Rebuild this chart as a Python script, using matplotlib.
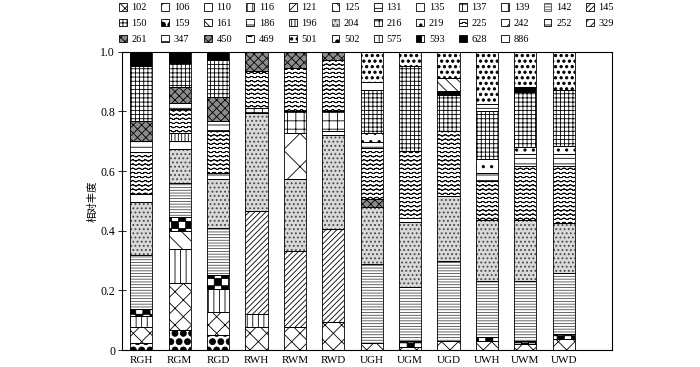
import warnings
import numpy as np
import matplotlib
matplotlib.use('Agg')
import matplotlib.pyplot as plt
import matplotlib.hatch as mhatch
from matplotlib.path import Path
from matplotlib.patches import Patch

warnings.filterwarnings('ignore')

samples = ['RGH', 'RGM', 'RGD', 'RWH', 'RWM', 'RWD',
           'UGH', 'UGM', 'UGD', 'UWH', 'UWM', 'UWD']

# legend order (row by row as in the figure)
otus = ['102', '106', '110', '116', '121', '125', '131', '135', '137', '139', '142', '145',
        '150', '159', '161', '186', '196', '204', '216', '219', '225', '242', '252', '329',
        '261', '347', '450', '469', '501', '502', '575', '593', '628', '886']

# stacking order, bottom -> top
stack_order = ['159', '102', '116', '161', '593', '145', '142', '204', '450', '186', '196',
               '121', '137', '216', '225', '252', '219', '261', '150', '628', '125', '131',
               '501', '106', '110', '135', '139', '242', '329', '347', '469', '502', '575', '886']

abund_102 = [0.053, 0.156, 0.075, 0.076, 0.076, 0.095, 0.023, 0.009, 0.031, 0.031, 0.020, 0.037]
abund_116 = [0.039, 0.116, 0.078, 0.044, 0, 0, 0, 0, 0, 0, 0, 0]
abund_121 = [0, 0, 0, 0, 0.154, 0, 0, 0, 0, 0, 0, 0]
abund_125 = [0, 0, 0, 0, 0, 0, 0, 0, 0.041, 0, 0, 0]
abund_131 = [0, 0, 0, 0, 0, 0, 0.025, 0, 0, 0.026, 0, 0]
abund_137 = [0, 0, 0, 0, 0.076, 0.068, 0, 0, 0, 0, 0, 0]
abund_142 = [0.182, 0.113, 0.156, 0, 0, 0, 0.265, 0.179, 0.269, 0.185, 0.199, 0.203]
abund_145 = [0, 0, 0, 0.347, 0.256, 0.310, 0, 0, 0, 0, 0, 0]
abund_150 = [0.183, 0.080, 0.125, 0, 0, 0, 0.144, 0.284, 0.122, 0.161, 0.184, 0.189]
abund_159 = [0.023, 0.068, 0.051, 0, 0, 0, 0, 0, 0, 0, 0, 0]
abund_161 = [0, 0.059, 0, 0, 0, 0, 0, 0, 0, 0, 0, 0]
abund_186 = [0.026, 0.025, 0.020, 0, 0, 0.012, 0, 0.011, 0, 0, 0, 0]
abund_196 = [0, 0.026, 0, 0, 0, 0, 0, 0, 0, 0, 0, 0]
abund_204 = [0.177, 0.116, 0.167, 0.329, 0.240, 0.317, 0.192, 0.220, 0.217, 0.205, 0.206, 0.168]
abund_216 = [0, 0, 0, 0.016, 0, 0, 0, 0, 0, 0, 0, 0]
abund_219 = [0, 0, 0, 0, 0, 0, 0.031, 0, 0, 0.044, 0.026, 0.028]
abund_225 = [0.141, 0.083, 0.139, 0.123, 0.144, 0.171, 0.171, 0.226, 0.217, 0.132, 0.181, 0.192]
abund_252 = [0.039, 0.020, 0.035, 0, 0, 0, 0.020, 0, 0, 0.028, 0.039, 0.039]
abund_261 = [0.066, 0.053, 0.079, 0.065, 0.054, 0.027, 0, 0, 0, 0, 0, 0]
abund_450 = [0, 0, 0, 0, 0, 0, 0.027, 0, 0, 0, 0, 0]
abund_501 = [0, 0, 0, 0, 0, 0, 0.102, 0.049, 0.089, 0.174, 0.119, 0.127]
abund_593 = [0.022, 0.047, 0.048, 0, 0, 0, 0, 0.022, 0, 0.014, 0.011, 0.017]
abund_628 = [0.049, 0.038, 0.027, 0, 0, 0, 0, 0, 0.014, 0, 0.015, 0]
zeros = [0] * 12

abund = {'102': abund_102, '116': abund_116, '121': abund_121, '125': abund_125,
         '131': abund_131, '137': abund_137, '142': abund_142, '145': abund_145,
         '150': abund_150, '159': abund_159, '161': abund_161, '186': abund_186,
         '196': abund_196, '204': abund_204, '216': abund_216, '219': abund_219,
         '225': abund_225, '252': abund_252, '261': abund_261, '450': abund_450,
         '501': abund_501, '593': abund_593, '628': abund_628}


# ---- a few extra hatch patterns: wave '~', checker 'c', filled dots 'd'/'D'/'p'
class WaveHatch(mhatch.HatchPatternBase):
    def __init__(self, hatch, density):
        self.num_lines = int(hatch.count('~') * density)
        self.npts = 129
        self.num_vertices = self.num_lines * self.npts * 2

    def set_vertices_and_codes(self, vertices, codes):
        step = 1.0 / self.num_lines
        xs = np.linspace(0, 1, self.npts)
        ys = 0.16 * step * np.sin(2 * np.pi * 16 * xs)
        n = self.npts
        for i in range(self.num_lines):
            y0 = (i + 0.5) * step
            seg = vertices[i * 2 * n:(i + 1) * 2 * n]
            seg[:n, 0] = xs
            seg[:n, 1] = y0 + ys
            seg[n:, 0] = xs[::-1]
            seg[n:, 1] = (y0 + ys)[::-1]
            c = codes[i * 2 * n:(i + 1) * 2 * n]
            c[:] = Path.LINETO
            c[0] = Path.MOVETO


class CheckerHatch(mhatch.HatchPatternBase):
    def __init__(self, hatch, density):
        self.n = hatch.count('c') * 7
        self.cells = [(i, j) for i in range(self.n) for j in range(self.n) if (i + j) % 2 == 0]
        self.num_vertices = len(self.cells) * 5

    def set_vertices_and_codes(self, vertices, codes):
        s = 1.0 / self.n
        for k, (i, j) in enumerate(self.cells):
            x0, y0 = i * s, j * s
            vertices[k * 5:k * 5 + 5] = [[x0, y0], [x0 + s, y0], [x0 + s, y0 + s],
                                         [x0, y0 + s], [x0, y0]]
            codes[k * 5:k * 5 + 5] = [Path.MOVETO, Path.LINETO, Path.LINETO,
                                      Path.LINETO, Path.CLOSEPOLY]


class SpeckleDots(mhatch.Circles):
    size = 0.22
    filled = True

    def __init__(self, hatch, density):
        self.num_rows = hatch.count('d') * density
        super().__init__(hatch, density)


class BigDots(mhatch.Circles):
    size = 0.36
    filled = True

    def __init__(self, hatch, density):
        self.num_rows = hatch.count('D') * density
        super().__init__(hatch, density)


class PinDots(mhatch.Circles):
    size = 0.14
    filled = True

    def __init__(self, hatch, density):
        self.num_rows = hatch.count('p') * density
        super().__init__(hatch, density)


mhatch._hatch_types.extend([WaveHatch, CheckerHatch, SpeckleDots, BigDots, PinDots])

# face colour, hatch, hatch colour
styles = {
    '102': ('white', 'xx', 'black'), '106': ('white', '//', 'black'),
    '110': ('white', 'o', 'black'), '116': ('white', '|||', 'black'),
    '121': ('white', 'x', 'black'), '125': ('white', '\\\\\\', 'black'),
    '131': ('white', '-', 'black'), '135': ('white', '.', 'black'),
    '137': ('white', '++', 'black'), '139': ('white', '|', 'black'),
    '142': ('white', '------', '0.3'), '145': ('white', '//////', 'black'),
    '150': ('white', '++++', 'black'), '159': ('white', 'DD', 'black'),
    '161': ('white', '\\\\', 'black'), '186': ('white', '-', 'black'),
    '196': ('white', '|||||', 'black'), '204': ('0.85', 'pppp', '0.3'),
    '216': ('white', '++', 'black'), '219': ('white', 'pp', 'black'),
    '225': ('white', '~~~~', 'black'), '242': ('white', '//', 'black'),
    '252': ('white', '---', 'black'), '329': ('white', '////', 'black'),
    '261': ('0.55', 'xxxx', 'black'), '347': ('white', '+', 'black'),
    '450': ('0.55', 'xxxx', 'black'), '469': ('white', 'o', 'black'),
    '501': ('white', 'ddd', 'black'), '502': ('white', 'dd', 'black'),
    '575': ('white', '||', 'black'), '593': ('white', 'cc', 'black'),
    '628': ('black', '', 'black'), '886': ('white', '', 'black'),
}

plt.rcParams['hatch.linewidth'] = 0.6
plt.rcParams['font.family'] = ['Liberation Serif', 'Noto Sans CJK SC']

fig = plt.figure(figsize=(7, 3.67), dpi=100)
ax = fig.add_axes([0.1743, 0.0463, 0.6997, 0.8127])

x = np.arange(len(samples))
width = 0.575
bottom = np.zeros(len(samples))
for otu in stack_order:
    vals = np.array(abund.get(otu, zeros), dtype=float)
    if vals.sum() == 0:
        continue
    face, hatch, hcol = styles[otu]
    ax.bar(x, vals, width, bottom=bottom, color=face, hatch=hatch,
           edgecolor=hcol, linewidth=0)
    ax.bar(x, vals, width, bottom=bottom, fill=False, edgecolor='black', linewidth=0.6)
    bottom += vals

ax.set_xlim(-0.5, 12.25)
ax.set_ylim(0, 1.0)
ax.set_xticks(x)
ax.set_xticklabels(samples, fontsize=8)
ax.tick_params(axis='x', length=0, pad=4)
ax.set_yticks([0, 0.2, 0.4, 0.6, 0.8, 1.0])
ax.set_yticklabels(['0', '0.2', '0.4', '0.6', '0.8', '1.0'], fontsize=8.5)
ax.tick_params(axis='y', direction='inout', length=6, width=0.6, pad=2)
for sp in ax.spines.values():
    sp.set_linewidth(0.8)
ax.set_ylabel('相对丰度', family='Noto Sans CJK SC', fontsize=7.5, labelpad=1.5)

# legend laid out row by row
handles = []
for otu in otus:
    face, hatch, hcol = styles[otu]
    handles.append(Patch(facecolor=face, hatch=hatch, edgecolor=hcol, linewidth=0.6))
ncol = 12
order = []
for c in range(ncol):
    for r in range(3):
        i = r * ncol + c
        if i < len(otus):
            order.append(i)
fig.legend([handles[i] for i in order], [otus[i] for i in order],
           loc='upper left', bbox_to_anchor=(0.17, 0.992), ncol=ncol, frameon=False,
           fontsize=7.5, handlelength=0.75, handleheight=0.75, handletextpad=0.45,
           columnspacing=1.38, labelspacing=0.62, borderpad=0.0, borderaxespad=0)

fig.savefig('out.png', dpi=100)
